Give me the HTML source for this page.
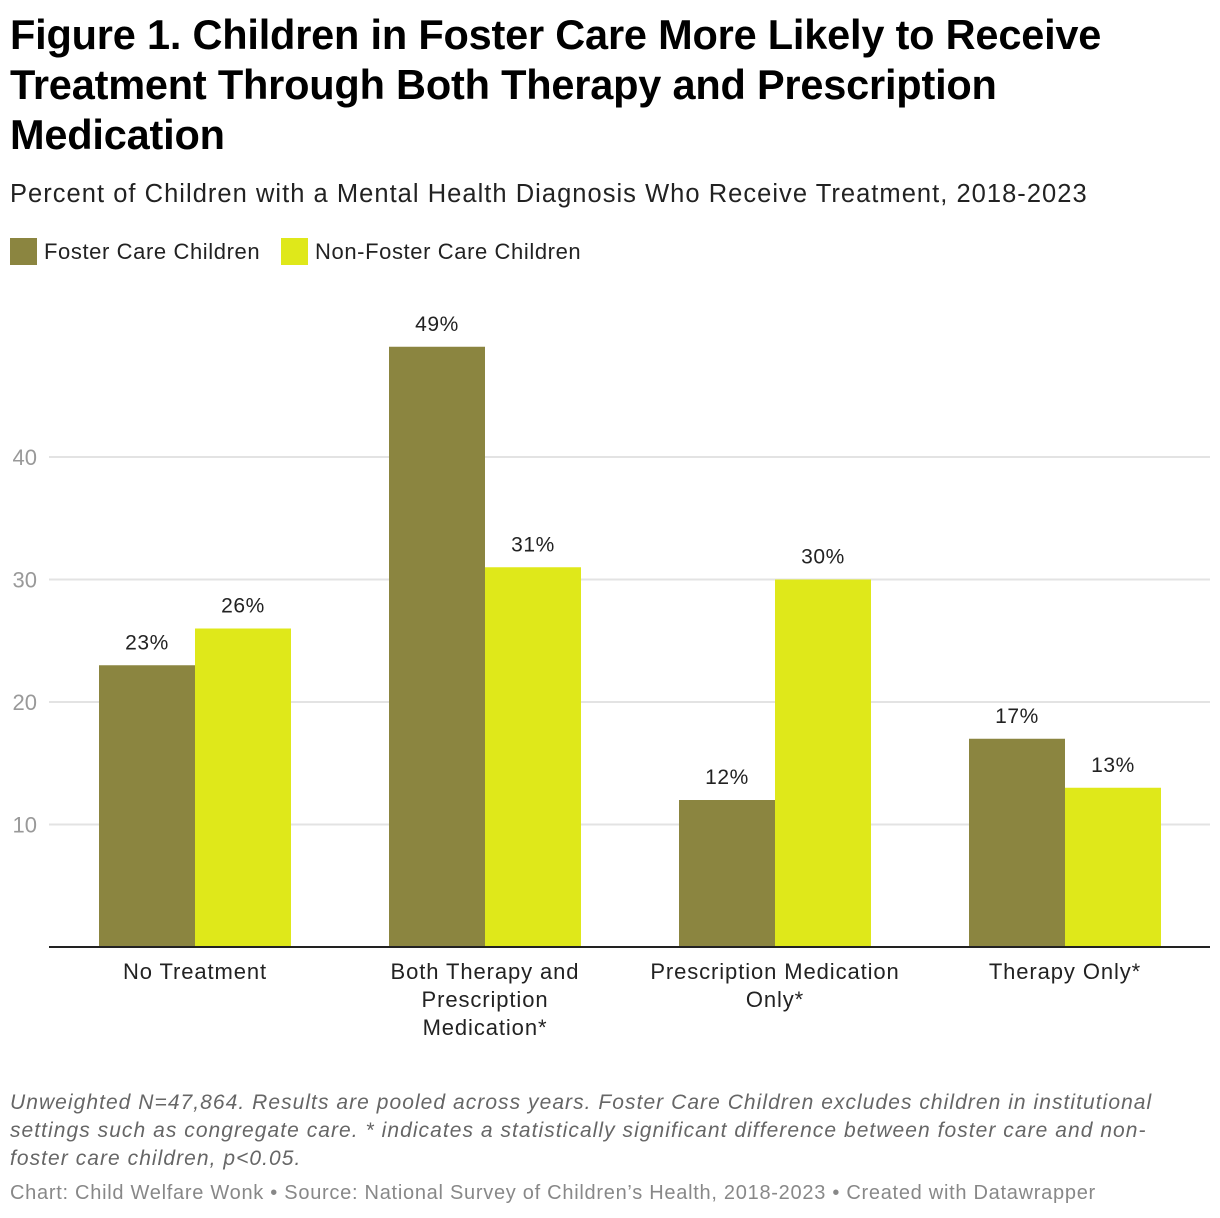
<!DOCTYPE html>
<html><head><meta charset="utf-8">
<style>
body{margin:0;width:1220px;height:1218px;background:#fff;font-family:"Liberation Sans",sans-serif;position:relative;overflow:hidden;color:#222}
.a{position:absolute;white-space:nowrap}
#title{left:10px;top:10px;font-weight:bold;font-size:41.5px;line-height:50px;color:#000;letter-spacing:-0.2px}
#sub{left:10px;top:180px;font-size:25.5px;color:#222;letter-spacing:1.03px}
.leg{top:238px;font-size:22px;color:#222;display:flex;align-items:center;letter-spacing:0.6px}
.sw{width:27px;height:27px;display:inline-block;margin-right:7px}
#note{left:10px;top:1089px;font-size:21px;line-height:28px;font-style:italic;color:#666;letter-spacing:1.05px}
#src{left:10px;top:1182px;font-size:20px;color:#888;letter-spacing:0.72px}
</style></head><body>
<div class="a" id="title">Figure 1. Children in Foster Care More Likely to Receive<br>Treatment Through Both Therapy and Prescription<br>Medication</div>
<div class="a" id="sub">Percent of Children with a Mental Health Diagnosis Who Receive Treatment, 2018-2023</div>
<div class="a leg" style="left:10px"><span class="sw" style="background:#8b8540"></span>Foster Care Children</div>
<div class="a leg" style="left:281px"><span class="sw" style="background:#dfe81a"></span>Non-Foster Care Children</div>
<svg id="chart" class="a" style="left:0;top:0" width="1220" height="1080"></svg>
<div class="a" id="note">Unweighted N=47,864. Results are pooled across years. Foster Care Children excludes children in institutional<br>settings such as congregate care. * indicates a statistically significant difference between foster care and non-<br>foster care children, p&lt;0.05.</div>
<div class="a" id="src">Chart: Child Welfare Wonk • Source: National Survey of Children’s Health, 2018-2023 • Created with Datawrapper</div>
<script>
const categories=[["No Treatment"],["Both Therapy and","Prescription","Medication*"],["Prescription Medication","Only*"],["Therapy Only*"]];
const fosterValues=[23,49,12,17];
const nonFosterValues=[26,31,30,13];
const yTicks=[10,20,30,40];
const NS="http://www.w3.org/2000/svg";
const svg=document.getElementById('chart');
const y0=947,pxPer=12.25;
function y(v){return y0-v*pxPer;}
const groupStart=99,groupStep=290,barW=96;
function x(i,s){return groupStart+i*groupStep+s*barW;}
function mk(t,attrs){const e=document.createElementNS(NS,t);for(const k in attrs)e.setAttribute(k,attrs[k]);svg.appendChild(e);return e;}
yTicks.forEach(t=>{
 const l=mk('line',{x1:49,x2:1210,y1:y(t),y2:y(t),stroke:'#e3e3e3','stroke-width':2});
 
 
 const tx=mk('text',{x:37,y:y(t)+8,'text-anchor':'end','font-size':22,fill:'#999','font-family':'Liberation Sans, sans-serif'});
 tx.textContent=t;
 
 
});
[fosterValues,nonFosterValues].forEach((vals,s)=>{
 vals.forEach((v,i)=>{
  const r=mk('rect',{x:x(i,s),y:y(v),width:barW,height:y0-y(v),fill:s?'#dfe81a':'#8b8540'});
  
  
  const t=mk('text',{x:x(i,s)+barW/2,y:y(v)-16,'text-anchor':'middle','font-size':21,'letter-spacing':0.6,fill:'#222','font-family':'Liberation Sans, sans-serif'});
  t.textContent=v+'%';
  
  
 });
});
const base=mk('line',{x1:49,x2:1210,y1:y0,y2:y0,stroke:'#222','stroke-width':2});


categories.forEach((lines,i)=>{
 const t=mk('text',{x:x(i,1),'text-anchor':'middle','font-size':22,'letter-spacing':0.9,fill:'#222','font-family':'Liberation Sans, sans-serif'});
 
 
 lines.forEach((ln,j)=>{const sp=document.createElementNS(NS,'tspan');sp.setAttribute('x',x(i,1));sp.setAttribute('y',979+j*28);sp.textContent=ln;t.appendChild(sp);});
});
</script>
</body></html>
